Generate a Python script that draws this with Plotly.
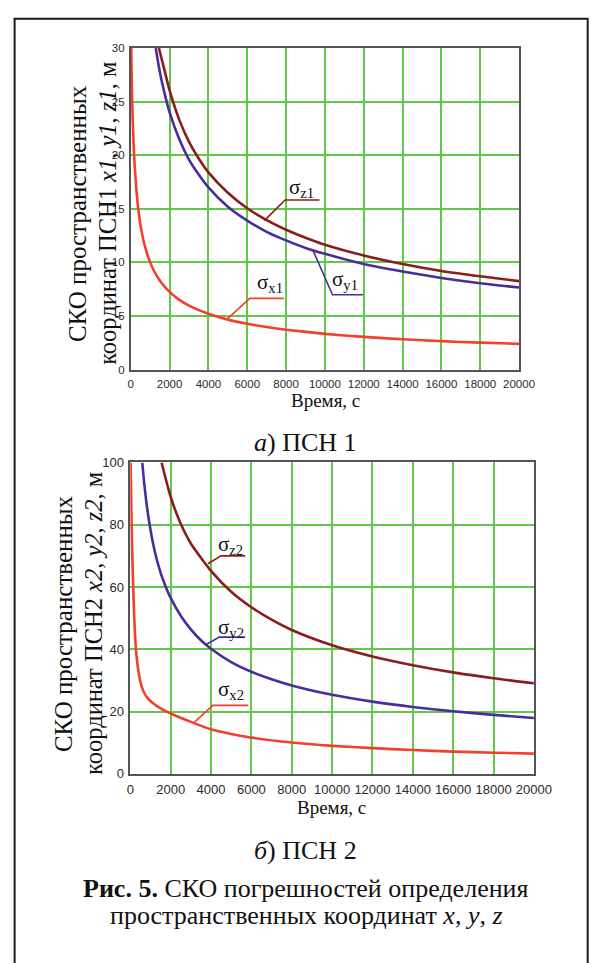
import plotly.graph_objects as go

W, H = 611, 963

# ---------------- data ----------------
# top chart: ПСН 1 (y range 0..30)
time_x1 = [22, 40, 70, 100, 150, 200, 300, 400, 500, 700, 1000, 1300, 1600, 2000, 2500, 3000,
           4000, 5000, 6000, 7000, 8000, 10000, 12000, 14000, 16000, 18000, 20000]
sigma_x1 = [30.0, 28.0, 25.4, 23.4, 20.9, 19.1, 16.55, 14.8, 13.5, 11.7, 10.0, 8.85, 8.05, 7.25,
            6.5, 5.97, 5.2, 4.66, 4.27, 3.97, 3.72, 3.33, 3.05, 2.83, 2.65, 2.51, 2.4]

time_y1 = [1285, 1500, 1750, 2000, 2500, 3000, 3500, 4000, 5000, 6000, 7000, 8000, 9000,
           10000, 12000, 14000, 16000, 18000, 20000]
sigma_y1 = [30.0, 27.75, 25.7, 24.0, 21.5, 19.6, 18.2, 17.0, 15.2, 13.9, 12.85, 12.05, 11.35,
            10.8, 9.85, 9.15, 8.55, 8.05, 7.65]

time_z1 = [1450, 1700, 2000, 2500, 3000, 3500, 4000, 5000, 6000, 7000, 8000, 9000, 10000,
           12000, 14000, 16000, 18000, 20000]
sigma_z1 = [30.0, 28.2, 26.05, 23.3, 21.25, 19.7, 18.4, 16.5, 15.05, 13.95, 13.05, 12.3, 11.65,
            10.65, 9.85, 9.2, 8.7, 8.25]

# bottom chart: ПСН 2 (y range 0..100)
time_x2 = [20, 50, 80, 110, 150, 190, 230, 270, 350, 430, 550, 670, 850, 1070, 1500, 2000,
           3000, 4000, 5000, 6000, 8000, 10000, 12000, 14000, 16000, 18000, 20000]
sigma_x2 = [100, 86, 76, 68, 59, 51.5, 45.5, 41, 35.5, 32, 28.3, 26.3, 24.4, 23.0, 21.0, 19.4,
            16.7, 14.3, 12.8, 11.65, 10.05, 9.0, 8.25, 7.65, 7.15, 6.8, 6.5]

time_y2 = [595, 700, 900, 1200, 1500, 1800, 2000, 2500, 3000, 3500, 4000, 5000, 6000, 7000,
           8000, 10000, 12000, 14000, 16000, 18000, 20000]
sigma_y2 = [100, 92.7, 82.4, 71.8, 64.6, 59.4, 56.5, 50.8, 46.4, 42.9, 40.2, 35.9, 32.8, 30.4,
            28.4, 25.4, 23.2, 21.5, 20.1, 18.95, 17.95]

time_z2 = [1550, 2000, 2500, 3000, 4000, 5000, 6000, 7000, 8000, 10000, 12000, 14000, 16000,
           18000, 20000]
sigma_z2 = [100, 89.0, 80.3, 74.0, 65.2, 58.5, 53.5, 49.5, 46.2, 41.3, 37.7, 34.9, 32.6,
            30.7, 29.1]

x_ticks = [0, 2000, 4000, 6000, 8000, 10000, 12000, 14000, 16000, 18000, 20000]

# curve labels: (text, label t, label sigma, leader polyline t, leader polyline sigma)
labels_top = [
    ("σ<sub>z1</sub>", 8800, 16.9, [6880, 7950, 9720], [13.9, 15.82, 15.82]),
    ("σ<sub>y1</sub>", 11050, 8.4, [9390, 10390, 11960], [11.1, 6.98, 6.98]),
    ("σ<sub>x1</sub>", 7150, 8.1, [4990, 6130, 7890], [4.75, 6.64, 6.64]),
]
labels_bot = [
    ("σ<sub>z2</sub>", 4990, 73.6, [3855, 4490, 5690], [67.5, 70.0, 70.0]),
    ("σ<sub>y2</sub>", 4990, 46.8, [3700, 4410, 5690], [41.3, 43.9, 43.9]),
    ("σ<sub>x2</sub>", 4990, 26.8, [3140, 4090, 5850], [16.4, 22.0, 22.0]),
]

# ---------------- styles ----------------
RED = "#f2402c"
MAROON = "#8a1d1d"
PURPLE = "#4a2c9e"
GRID = "#62c84a"
AXC = "#555555"
SERIF = "Liberation Serif, DejaVu Serif, serif"
SANS = "Liberation Sans, Arial, sans-serif"

fig = go.Figure()


def add_curve(t, s, color, xa, ya):
    fig.add_trace(go.Scatter(x=t, y=s, mode="lines", xaxis=xa, yaxis=ya,
                             line=dict(color=color, width=2.6, shape="spline", smoothing=0.6),
                             hoverinfo="skip", showlegend=False))


add_curve(time_x1, sigma_x1, RED, "x", "y")
add_curve(time_y1, sigma_y1, PURPLE, "x", "y")
add_curve(time_z1, sigma_z1, MAROON, "x", "y")
add_curve(time_x2, sigma_x2, RED, "x2", "y2")
add_curve(time_y2, sigma_y2, PURPLE, "x2", "y2")
add_curve(time_z2, sigma_z2, MAROON, "x2", "y2")

annotations = []
colors = [MAROON, PURPLE, RED]
for lab, col in zip(labels_top, colors):
    txt, lt, ls, pt, ps = lab
    fig.add_trace(go.Scatter(x=pt, y=ps, mode="lines", xaxis="x", yaxis="y",
                             line=dict(color=col, width=1.6), hoverinfo="skip", showlegend=False))
    annotations.append(dict(text=txt, x=lt, y=ls, xref="x", yref="y", showarrow=False,
                            font=dict(family=SERIF, size=21, color="#111")))
for lab, col in zip(labels_bot, colors):
    txt, lt, ls, pt, ps = lab
    fig.add_trace(go.Scatter(x=pt, y=ps, mode="lines", xaxis="x2", yaxis="y2",
                             line=dict(color=col, width=1.6), hoverinfo="skip", showlegend=False))
    annotations.append(dict(text=txt, x=lt, y=ls, xref="x2", yref="y2", showarrow=False,
                            font=dict(family=SERIF, size=21, color="#111")))


def px(x):
    return x / W


def py(y):
    return 1 - y / H


def axis_common(fs):
    return dict(showgrid=True, gridcolor=GRID, gridwidth=1.6, showline=True, mirror=True,
                linecolor=AXC, linewidth=1.6, zeroline=False, ticks="",
                tickfont=dict(family=SANS, size=fs, color="#2a2a2a"), tickformat="d",
                fixedrange=True)


fig.update_layout(
    width=W, height=H, autosize=False, margin=dict(l=0, r=0, t=0, b=0, pad=0),
    paper_bgcolor="white", plot_bgcolor="white",
    xaxis=dict(domain=[px(131.5), px(534.3)], anchor="y", range=[0, 20000],
               tickvals=x_ticks, ticklabelstandoff=3, **axis_common(11.5)),
    yaxis=dict(domain=[py(368.3), py(41.7)], anchor="x", range=[0, 30], dtick=5,
               ticklabelstandoff=2, **axis_common(11.5)),
    xaxis2=dict(domain=[px(131), px(549.7)], anchor="y2", range=[0, 20000],
                tickvals=x_ticks, ticklabelstandoff=3, **axis_common(13)),
    yaxis2=dict(domain=[py(779), py(462.7)], anchor="x2", range=[0, 100], dtick=20,
                ticklabelstandoff=2, **axis_common(13)),
)


def paper_text(txt, x, y, size, angle=0):
    annotations.append(dict(text=txt, x=px(x), y=py(y), xref="paper", yref="paper",
                            showarrow=False, textangle=angle, xanchor="center", yanchor="middle",
                            font=dict(family=SERIF, size=size, color="#111")))


# axis titles
paper_text("СКО пространственных", 77, 210, 25, -90)
paper_text("координат ПСН1 <i>x1</i>, <i>y1</i>, <i>z1</i>, м", 108, 210, 24.5, -90)
paper_text("Время, с", 333, 400, 19)
paper_text("СКО пространственных", 61, 626, 25, -90)
paper_text("координат ПСН2 <i>x2</i>, <i>y2</i>, <i>z2</i>, м", 93, 626, 24.5, -90)
paper_text("Время, с", 340, 813, 19)

# sub-captions and figure caption
paper_text("<i>а</i>) ПСН 1", 313, 442, 26)
paper_text("<i>б</i>) ПСН 2", 313, 857, 26)
paper_text("<b>Рис. 5.</b> СКО погрешностей определения", 313, 895, 26)
paper_text("пространственных координат <i>x</i>, <i>y</i>, <i>z</i>", 314, 923, 26)

fig.update_layout(annotations=annotations)

# page frame
fig.add_shape(type="rect", xref="paper", yref="paper", x0=px(11), x1=px(605.5),
              y0=py(990), y1=py(12), line=dict(color="#1a1a1a", width=2), layer="above")

fig.write_html("out.html", config={"displayModeBar": False, "responsive": False},
               post_script=("document.documentElement.style.overflow='hidden';"
                            "document.body.style.overflow='hidden';"
                            "document.body.style.margin='0';"))
